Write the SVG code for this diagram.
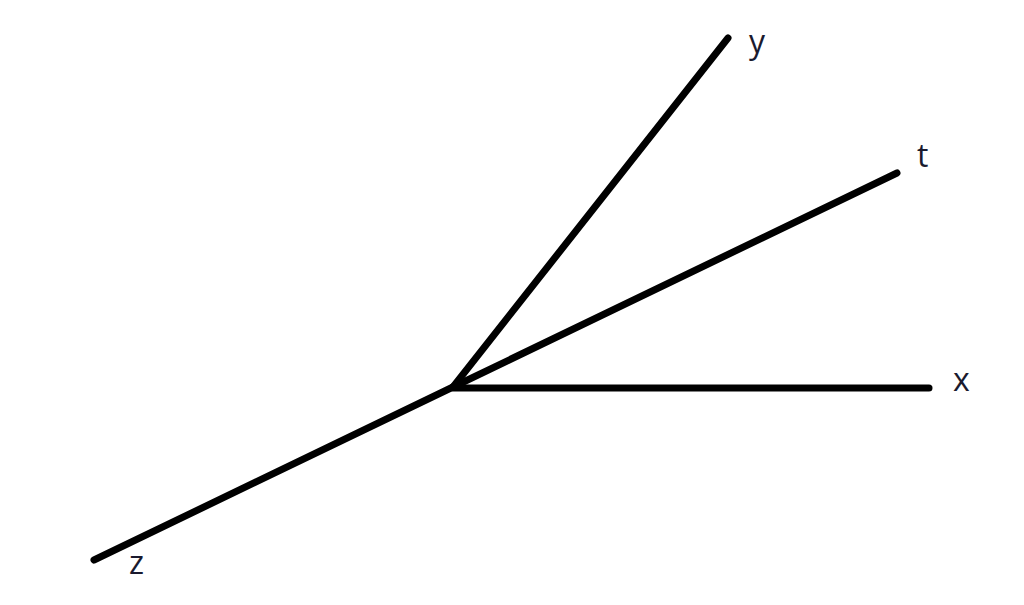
<svg xmlns="http://www.w3.org/2000/svg" width="1024" height="605" viewBox="0 0 1024 605">
<style>
.axis{stroke:#000;stroke-width:7;stroke-linecap:round;fill:none}
.lbl{font-family:"Open Sans","Noto Sans",sans-serif;font-size:32px;fill:#1a1a2e}
</style>
<rect width="1024" height="605" fill="#fff"/>
<g id="connectors">
<line class="axis" x1="453" y1="387" x2="728" y2="38"/>
<line class="axis" x1="453" y1="387" x2="897" y2="173"/>
<line class="axis" x1="453" y1="388" x2="929" y2="388"/>
<line class="axis" x1="453" y1="387" x2="94" y2="560"/>
</g>
<g id="label-y"><text class="lbl" x="749" y="53">y</text></g>
<g id="label-t"><text class="lbl" x="917" y="167">t</text></g>
<g id="label-x"><text class="lbl" x="953" y="391">x</text></g>
<g id="label-z"><text class="lbl" x="129" y="574">z</text></g>
</svg>
